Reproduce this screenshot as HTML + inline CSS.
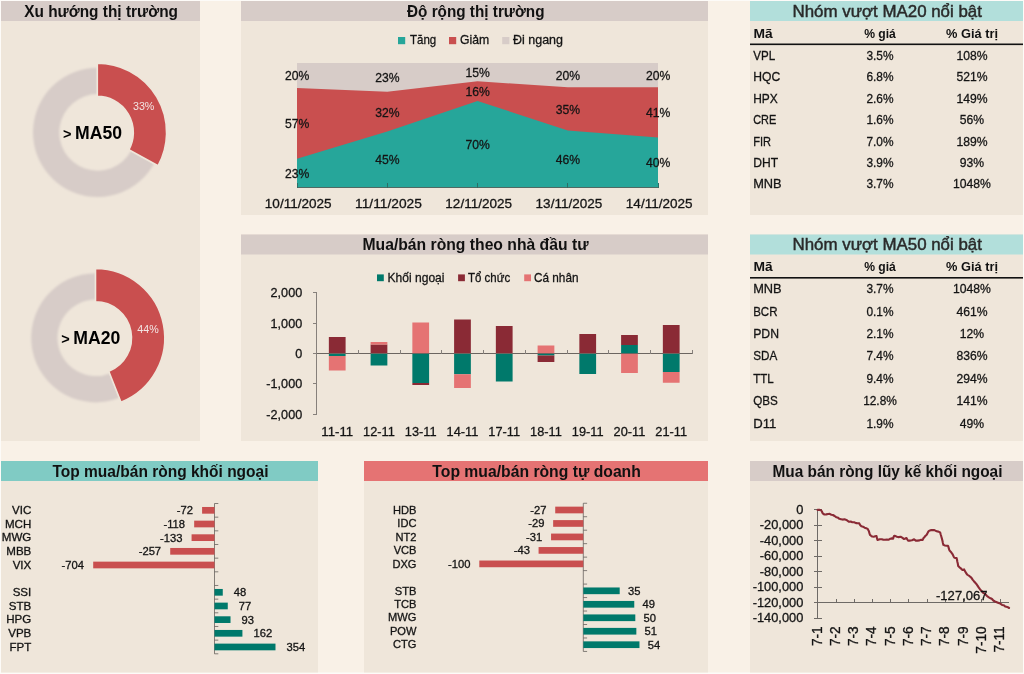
<!DOCTYPE html>
<html lang="vi"><head><meta charset="utf-8"><title>Dashboard thị trường</title>
<style>
html,body{margin:0;padding:0;background:#FDFBF8;}
body{width:1024px;height:674px;overflow:hidden;}
svg{display:block;font-family:"Liberation Sans", Arial, sans-serif;}
</style></head><body>
<svg width="1024" height="674" viewBox="0 0 1024 674">
<defs><filter id="soft" x="-10%" y="-10%" width="120%" height="120%"><feGaussianBlur stdDeviation="0.9"/></filter></defs>
<rect x="1.00" y="1.00" width="1022.00" height="671.50" fill="#F9F1E7" />
<rect x="1.00" y="1.00" width="199.00" height="440.00" fill="#EFE6DA" />
<rect x="1.00" y="1.00" width="199.00" height="20.00" fill="#D7CCC8" />
<rect x="241.00" y="1.00" width="467.00" height="214.00" fill="#EFE6DA" />
<rect x="241.00" y="1.00" width="467.00" height="20.00" fill="#D7CCC8" />
<rect x="241.00" y="234.50" width="467.00" height="206.50" fill="#EFE6DA" />
<rect x="241.00" y="234.50" width="467.00" height="20.00" fill="#D7CCC8" />
<rect x="750.00" y="1.00" width="273.00" height="214.00" fill="#EFE6DA" />
<rect x="750.00" y="1.00" width="273.00" height="20.00" fill="#B2DFDB" />
<rect x="750.00" y="234.50" width="273.00" height="206.50" fill="#EFE6DA" />
<rect x="750.00" y="234.50" width="273.00" height="20.00" fill="#B2DFDB" />
<rect x="1.00" y="461.00" width="317.00" height="211.50" fill="#EFE6DA" />
<rect x="1.00" y="461.00" width="317.00" height="20.00" fill="#80CBC4" />
<rect x="364.00" y="461.00" width="344.00" height="211.50" fill="#EFE6DA" />
<rect x="364.00" y="461.00" width="344.00" height="20.00" fill="#E57373" />
<rect x="750.00" y="461.00" width="273.00" height="211.50" fill="#EFE6DA" />
<rect x="750.00" y="461.00" width="273.00" height="20.00" fill="#D7CCC8" />
<text x="101.10" y="16.80" font-size="16.5" text-anchor="middle" fill="#111" font-weight="700" textLength="153.80" lengthAdjust="spacingAndGlyphs" >Xu hướng thị trường</text>
<text x="475.75" y="16.80" font-size="16.5" text-anchor="middle" fill="#111" font-weight="700" textLength="137.50" lengthAdjust="spacingAndGlyphs" >Độ rộng thị trường</text>
<text x="475.50" y="250.30" font-size="16.5" text-anchor="middle" fill="#111" font-weight="700" textLength="226.00" lengthAdjust="spacingAndGlyphs" >Mua/bán ròng theo nhà đầu tư</text>
<text x="887.20" y="16.50" font-size="16.2" text-anchor="middle" fill="#2a2a2a" textLength="189.50" lengthAdjust="spacingAndGlyphs" stroke="#2a2a2a" stroke-width="0.45">Nhóm vượt MA20 nổi bật</text>
<text x="887.20" y="250.00" font-size="16.2" text-anchor="middle" fill="#2a2a2a" textLength="189.50" lengthAdjust="spacingAndGlyphs" stroke="#2a2a2a" stroke-width="0.45">Nhóm vượt MA50 nổi bật</text>
<text x="160.50" y="476.80" font-size="16.5" text-anchor="middle" fill="#111" font-weight="700" textLength="216.00" lengthAdjust="spacingAndGlyphs" >Top mua/bán ròng khối ngoại</text>
<text x="536.60" y="476.80" font-size="16.5" text-anchor="middle" fill="#111" font-weight="700" textLength="208.50" lengthAdjust="spacingAndGlyphs" >Top mua/bán ròng tự doanh</text>
<text x="887.50" y="476.80" font-size="16.5" text-anchor="middle" fill="#111" font-weight="700" textLength="229.90" lengthAdjust="spacingAndGlyphs" >Mua bán ròng lũy kế khối ngoại</text>
<path d="M154.21,163.52 A64.6,64.6 0 1 1 97.60,67.80 L97.60,94.10 A38.3,38.3 0 1 0 131.16,150.85 Z" fill="#D7CCC8" filter="url(#soft)"/>
<path d="M97.30,63.10 A69.3,69.3 0 0 1 158.03,165.79 L128.85,149.74 A36.0,36.0 0 0 0 97.30,96.40 Z" fill="#C94F4F" stroke="#EFE6DA" stroke-width="1.6"/>
<text x="63.00" y="138.80" font-size="14.5" text-anchor="start" fill="#000" font-weight="700" >&gt;</text>
<text x="75.10" y="139.40" font-size="17.6" text-anchor="start" fill="#000" font-weight="700" textLength="47.00" lengthAdjust="spacingAndGlyphs" >MA50</text>
<text x="143.70" y="110.20" font-size="10.7" text-anchor="middle" fill="#F3E6E4" >33%</text>
<path d="M119.58,397.86 A64.6,64.6 0 1 1 95.80,273.20 L95.80,299.50 A38.3,38.3 0 1 0 109.90,373.41 Z" fill="#D7CCC8" filter="url(#soft)"/>
<path d="M95.50,268.50 A69.3,69.3 0 0 1 121.01,402.23 L108.75,371.27 A36.0,36.0 0 0 0 95.50,301.80 Z" fill="#C94F4F" stroke="#EFE6DA" stroke-width="1.6"/>
<text x="61.20" y="343.50" font-size="14.5" text-anchor="start" fill="#000" font-weight="700" >&gt;</text>
<text x="73.30" y="344.10" font-size="17.6" text-anchor="start" fill="#000" font-weight="700" textLength="47.00" lengthAdjust="spacingAndGlyphs" >MA20</text>
<text x="148.00" y="333.20" font-size="10.7" text-anchor="middle" fill="#F3E6E4" >44%</text>
<rect x="297.00" y="63.00" width="361.00" height="124.50" fill="#D7CCC8" />
<polygon points="297.0,187.5 297.00,88.02 387.25,91.76 477.50,81.30 567.75,87.28 658.00,87.28 658.0,187.5" fill="#C94F4F"/>
<polygon points="297.0,187.5 297.00,158.87 387.25,131.47 477.50,100.97 567.75,130.48 658.00,137.45 658.0,187.5" fill="#26A69A"/>
<line x1="297.00" y1="187.30" x2="658.00" y2="187.30" stroke="#4f6a64" stroke-width="1" shape-rendering="crispEdges"/>
<line x1="297.00" y1="182.90" x2="297.00" y2="187.50" stroke="#2d6e66" stroke-width="1" shape-rendering="crispEdges"/>
<line x1="387.25" y1="182.90" x2="387.25" y2="187.50" stroke="#2d6e66" stroke-width="1" shape-rendering="crispEdges"/>
<line x1="477.50" y1="182.90" x2="477.50" y2="187.50" stroke="#2d6e66" stroke-width="1" shape-rendering="crispEdges"/>
<line x1="567.75" y1="182.90" x2="567.75" y2="187.50" stroke="#2d6e66" stroke-width="1" shape-rendering="crispEdges"/>
<line x1="658.00" y1="182.90" x2="658.00" y2="187.50" stroke="#2d6e66" stroke-width="1" shape-rendering="crispEdges"/>
<text x="297.20" y="178.08" font-size="13.3" text-anchor="middle" fill="#141414" stroke="#141414" stroke-width="0.3" textLength="24.36" lengthAdjust="spacingAndGlyphs" >23%</text>
<text x="297.20" y="128.34" font-size="13.3" text-anchor="middle" fill="#141414" stroke="#141414" stroke-width="0.3" textLength="24.36" lengthAdjust="spacingAndGlyphs" >57%</text>
<text x="297.20" y="80.41" font-size="13.3" text-anchor="middle" fill="#141414" stroke="#141414" stroke-width="0.3" textLength="24.36" lengthAdjust="spacingAndGlyphs" >20%</text>
<text x="387.45" y="164.39" font-size="13.3" text-anchor="middle" fill="#141414" stroke="#141414" stroke-width="0.3" textLength="24.36" lengthAdjust="spacingAndGlyphs" >45%</text>
<text x="387.45" y="116.52" font-size="13.3" text-anchor="middle" fill="#141414" stroke="#141414" stroke-width="0.3" textLength="24.36" lengthAdjust="spacingAndGlyphs" >32%</text>
<text x="387.45" y="82.28" font-size="13.3" text-anchor="middle" fill="#141414" stroke="#141414" stroke-width="0.3" textLength="24.36" lengthAdjust="spacingAndGlyphs" >23%</text>
<text x="477.70" y="149.14" font-size="13.3" text-anchor="middle" fill="#141414" stroke="#141414" stroke-width="0.3" textLength="24.36" lengthAdjust="spacingAndGlyphs" >70%</text>
<text x="477.70" y="96.04" font-size="13.3" text-anchor="middle" fill="#141414" stroke="#141414" stroke-width="0.3" textLength="24.36" lengthAdjust="spacingAndGlyphs" >16%</text>
<text x="477.70" y="77.05" font-size="13.3" text-anchor="middle" fill="#141414" stroke="#141414" stroke-width="0.3" textLength="24.36" lengthAdjust="spacingAndGlyphs" >15%</text>
<text x="567.95" y="163.89" font-size="13.3" text-anchor="middle" fill="#141414" stroke="#141414" stroke-width="0.3" textLength="24.36" lengthAdjust="spacingAndGlyphs" >46%</text>
<text x="567.95" y="113.78" font-size="13.3" text-anchor="middle" fill="#141414" stroke="#141414" stroke-width="0.3" textLength="24.36" lengthAdjust="spacingAndGlyphs" >35%</text>
<text x="567.95" y="80.04" font-size="13.3" text-anchor="middle" fill="#141414" stroke="#141414" stroke-width="0.3" textLength="24.36" lengthAdjust="spacingAndGlyphs" >20%</text>
<text x="658.20" y="167.38" font-size="13.3" text-anchor="middle" fill="#141414" stroke="#141414" stroke-width="0.3" textLength="24.36" lengthAdjust="spacingAndGlyphs" >40%</text>
<text x="658.20" y="117.26" font-size="13.3" text-anchor="middle" fill="#141414" stroke="#141414" stroke-width="0.3" textLength="24.36" lengthAdjust="spacingAndGlyphs" >41%</text>
<text x="658.20" y="80.04" font-size="13.3" text-anchor="middle" fill="#141414" stroke="#141414" stroke-width="0.3" textLength="24.36" lengthAdjust="spacingAndGlyphs" >20%</text>
<text x="298.20" y="208.20" font-size="13.3" text-anchor="middle" fill="#141414" stroke="#141414" stroke-width="0.3" textLength="66.70" lengthAdjust="spacingAndGlyphs" >10/11/2025</text>
<text x="388.45" y="208.20" font-size="13.3" text-anchor="middle" fill="#141414" stroke="#141414" stroke-width="0.3" textLength="66.70" lengthAdjust="spacingAndGlyphs" >11/11/2025</text>
<text x="478.70" y="208.20" font-size="13.3" text-anchor="middle" fill="#141414" stroke="#141414" stroke-width="0.3" textLength="66.70" lengthAdjust="spacingAndGlyphs" >12/11/2025</text>
<text x="568.95" y="208.20" font-size="13.3" text-anchor="middle" fill="#141414" stroke="#141414" stroke-width="0.3" textLength="66.70" lengthAdjust="spacingAndGlyphs" >13/11/2025</text>
<text x="659.20" y="208.20" font-size="13.3" text-anchor="middle" fill="#141414" stroke="#141414" stroke-width="0.3" textLength="66.70" lengthAdjust="spacingAndGlyphs" >14/11/2025</text>
<rect x="398.00" y="37.00" width="7.20" height="7.20" fill="#26A69A" />
<text x="410.00" y="44.10" font-size="13.3" text-anchor="start" fill="#141414" stroke="#141414" stroke-width="0.3" textLength="26.20" lengthAdjust="spacingAndGlyphs" >Tăng</text>
<rect x="449.00" y="37.00" width="7.20" height="7.20" fill="#C94F4F" />
<text x="460.00" y="44.10" font-size="13.3" text-anchor="start" fill="#141414" stroke="#141414" stroke-width="0.3" textLength="29.20" lengthAdjust="spacingAndGlyphs" >Giảm</text>
<rect x="502.20" y="37.00" width="7.20" height="7.20" fill="#D7CCC8" />
<text x="513.00" y="44.10" font-size="13.3" text-anchor="start" fill="#141414" stroke="#141414" stroke-width="0.3" textLength="50.00" lengthAdjust="spacingAndGlyphs" >Đi ngang</text>
<line x1="312.55" y1="292.90" x2="316.55" y2="292.90" stroke="#86807b" stroke-width="1" shape-rendering="crispEdges"/>
<text x="302.20" y="297.30" font-size="13.3" text-anchor="end" fill="#141414" stroke="#141414" stroke-width="0.3" textLength="31.62" lengthAdjust="spacingAndGlyphs" >2,000</text>
<line x1="312.55" y1="323.20" x2="316.55" y2="323.20" stroke="#86807b" stroke-width="1" shape-rendering="crispEdges"/>
<text x="302.20" y="327.60" font-size="13.3" text-anchor="end" fill="#141414" stroke="#141414" stroke-width="0.3" textLength="31.62" lengthAdjust="spacingAndGlyphs" >1,000</text>
<line x1="312.55" y1="353.50" x2="316.55" y2="353.50" stroke="#86807b" stroke-width="1" shape-rendering="crispEdges"/>
<text x="302.20" y="357.90" font-size="13.3" text-anchor="end" fill="#141414" stroke="#141414" stroke-width="0.3" textLength="7.03" lengthAdjust="spacingAndGlyphs" >0</text>
<line x1="312.55" y1="383.80" x2="316.55" y2="383.80" stroke="#86807b" stroke-width="1" shape-rendering="crispEdges"/>
<text x="302.20" y="388.20" font-size="13.3" text-anchor="end" fill="#141414" stroke="#141414" stroke-width="0.3" textLength="35.83" lengthAdjust="spacingAndGlyphs" >-1,000</text>
<line x1="312.55" y1="414.10" x2="316.55" y2="414.10" stroke="#86807b" stroke-width="1" shape-rendering="crispEdges"/>
<text x="302.20" y="418.50" font-size="13.3" text-anchor="end" fill="#141414" stroke="#141414" stroke-width="0.3" textLength="35.83" lengthAdjust="spacingAndGlyphs" >-2,000</text>
<line x1="316.55" y1="292.90" x2="316.55" y2="414.10" stroke="#86807b" stroke-width="1" shape-rendering="crispEdges"/>
<rect x="328.85" y="337.00" width="16.75" height="16.50" fill="#8A2A35" />
<rect x="328.85" y="353.50" width="16.75" height="2.50" fill="#00796B" />
<rect x="328.85" y="356.00" width="16.75" height="14.50" fill="#E57373" />
<text x="337.23" y="435.60" font-size="13.3" text-anchor="middle" fill="#141414" stroke="#141414" stroke-width="0.3" textLength="31.75" lengthAdjust="spacingAndGlyphs" >11-11</text>
<rect x="370.60" y="344.50" width="16.75" height="9.00" fill="#8A2A35" />
<rect x="370.60" y="342.00" width="16.75" height="2.50" fill="#E57373" />
<rect x="370.60" y="353.50" width="16.75" height="12.00" fill="#00796B" />
<text x="378.98" y="435.60" font-size="13.3" text-anchor="middle" fill="#141414" stroke="#141414" stroke-width="0.3" textLength="31.75" lengthAdjust="spacingAndGlyphs" >12-11</text>
<rect x="412.35" y="322.50" width="16.75" height="31.00" fill="#E57373" />
<rect x="412.35" y="353.50" width="16.75" height="29.50" fill="#00796B" />
<rect x="412.35" y="383.00" width="16.75" height="2.00" fill="#8A2A35" />
<text x="420.73" y="435.60" font-size="13.3" text-anchor="middle" fill="#141414" stroke="#141414" stroke-width="0.3" textLength="31.75" lengthAdjust="spacingAndGlyphs" >13-11</text>
<rect x="454.10" y="319.50" width="16.75" height="34.00" fill="#8A2A35" />
<rect x="454.10" y="353.50" width="16.75" height="20.75" fill="#00796B" />
<rect x="454.10" y="374.25" width="16.75" height="13.75" fill="#E57373" />
<text x="462.48" y="435.60" font-size="13.3" text-anchor="middle" fill="#141414" stroke="#141414" stroke-width="0.3" textLength="31.75" lengthAdjust="spacingAndGlyphs" >14-11</text>
<rect x="495.85" y="326.00" width="16.75" height="27.50" fill="#8A2A35" />
<rect x="495.85" y="353.50" width="16.75" height="28.00" fill="#00796B" />
<text x="504.23" y="435.60" font-size="13.3" text-anchor="middle" fill="#141414" stroke="#141414" stroke-width="0.3" textLength="31.75" lengthAdjust="spacingAndGlyphs" >17-11</text>
<rect x="537.60" y="345.50" width="16.75" height="8.00" fill="#E57373" />
<rect x="537.60" y="353.50" width="16.75" height="2.00" fill="#00796B" />
<rect x="537.60" y="355.50" width="16.75" height="6.50" fill="#8A2A35" />
<text x="545.97" y="435.60" font-size="13.3" text-anchor="middle" fill="#141414" stroke="#141414" stroke-width="0.3" textLength="31.75" lengthAdjust="spacingAndGlyphs" >18-11</text>
<rect x="579.35" y="334.00" width="16.75" height="19.50" fill="#8A2A35" />
<rect x="579.35" y="353.50" width="16.75" height="20.50" fill="#00796B" />
<text x="587.72" y="435.60" font-size="13.3" text-anchor="middle" fill="#141414" stroke="#141414" stroke-width="0.3" textLength="31.75" lengthAdjust="spacingAndGlyphs" >19-11</text>
<rect x="621.10" y="345.00" width="16.75" height="8.50" fill="#00796B" />
<rect x="621.10" y="335.00" width="16.75" height="10.00" fill="#8A2A35" />
<rect x="621.10" y="353.50" width="16.75" height="19.50" fill="#E57373" />
<text x="629.47" y="435.60" font-size="13.3" text-anchor="middle" fill="#141414" stroke="#141414" stroke-width="0.3" textLength="31.75" lengthAdjust="spacingAndGlyphs" >20-11</text>
<rect x="662.85" y="325.00" width="16.75" height="28.50" fill="#8A2A35" />
<rect x="662.85" y="353.50" width="16.75" height="18.50" fill="#00796B" />
<rect x="662.85" y="372.00" width="16.75" height="10.75" fill="#E57373" />
<text x="671.22" y="435.60" font-size="13.3" text-anchor="middle" fill="#141414" stroke="#141414" stroke-width="0.3" textLength="31.75" lengthAdjust="spacingAndGlyphs" >21-11</text>
<line x1="316.55" y1="353.50" x2="692.30" y2="353.50" stroke="#6b6560" stroke-width="1" shape-rendering="crispEdges"/>
<line x1="358.30" y1="349.50" x2="358.30" y2="353.50" stroke="#86807b" stroke-width="1" shape-rendering="crispEdges"/>
<line x1="400.05" y1="349.50" x2="400.05" y2="353.50" stroke="#86807b" stroke-width="1" shape-rendering="crispEdges"/>
<line x1="441.80" y1="349.50" x2="441.80" y2="353.50" stroke="#86807b" stroke-width="1" shape-rendering="crispEdges"/>
<line x1="483.55" y1="349.50" x2="483.55" y2="353.50" stroke="#86807b" stroke-width="1" shape-rendering="crispEdges"/>
<line x1="525.30" y1="349.50" x2="525.30" y2="353.50" stroke="#86807b" stroke-width="1" shape-rendering="crispEdges"/>
<line x1="567.05" y1="349.50" x2="567.05" y2="353.50" stroke="#86807b" stroke-width="1" shape-rendering="crispEdges"/>
<line x1="608.80" y1="349.50" x2="608.80" y2="353.50" stroke="#86807b" stroke-width="1" shape-rendering="crispEdges"/>
<line x1="650.55" y1="349.50" x2="650.55" y2="353.50" stroke="#86807b" stroke-width="1" shape-rendering="crispEdges"/>
<line x1="692.30" y1="349.50" x2="692.30" y2="353.50" stroke="#86807b" stroke-width="1" shape-rendering="crispEdges"/>
<rect x="377.00" y="274.40" width="6.80" height="6.80" fill="#00796B" />
<text x="387.50" y="281.50" font-size="13.3" text-anchor="start" fill="#141414" stroke="#141414" stroke-width="0.3" textLength="57.00" lengthAdjust="spacingAndGlyphs" >Khối ngoại</text>
<rect x="458.10" y="274.40" width="6.80" height="6.80" fill="#8A2A35" />
<text x="468.00" y="281.50" font-size="13.3" text-anchor="start" fill="#141414" stroke="#141414" stroke-width="0.3" textLength="42.20" lengthAdjust="spacingAndGlyphs" >Tổ chức</text>
<rect x="524.20" y="274.40" width="6.80" height="6.80" fill="#E57373" />
<text x="534.00" y="281.50" font-size="13.3" text-anchor="start" fill="#141414" stroke="#141414" stroke-width="0.3" textLength="44.50" lengthAdjust="spacingAndGlyphs" >Cá nhân</text>
<text x="753.40" y="37.80" font-size="13.6" text-anchor="start" fill="#111" font-weight="700" textLength="19.20" lengthAdjust="spacingAndGlyphs" >Mã</text>
<text x="880.00" y="37.80" font-size="13.6" text-anchor="middle" fill="#111" font-weight="700" textLength="31.75" lengthAdjust="spacingAndGlyphs" >% giá</text>
<text x="972.00" y="37.80" font-size="13.6" text-anchor="middle" fill="#111" font-weight="700" textLength="51.90" lengthAdjust="spacingAndGlyphs" >% Giá trị</text>
<rect x="750.00" y="43.50" width="273.00" height="1.60" fill="#111" />
<text x="753.20" y="59.90" font-size="13.3" text-anchor="start" fill="#141414" stroke="#141414" stroke-width="0.3" textLength="21.90" lengthAdjust="spacingAndGlyphs" >VPL</text>
<text x="880.00" y="59.90" font-size="13.3" text-anchor="middle" fill="#141414" stroke="#141414" stroke-width="0.3" textLength="27.13" lengthAdjust="spacingAndGlyphs" >3.5%</text>
<text x="972.00" y="59.90" font-size="13.3" text-anchor="middle" fill="#141414" stroke="#141414" stroke-width="0.3" textLength="31.13" lengthAdjust="spacingAndGlyphs" >108%</text>
<text x="753.20" y="81.30" font-size="13.3" text-anchor="start" fill="#141414" stroke="#141414" stroke-width="0.3" textLength="27.00" lengthAdjust="spacingAndGlyphs" >HQC</text>
<text x="880.00" y="81.30" font-size="13.3" text-anchor="middle" fill="#141414" stroke="#141414" stroke-width="0.3" textLength="27.13" lengthAdjust="spacingAndGlyphs" >6.8%</text>
<text x="972.00" y="81.30" font-size="13.3" text-anchor="middle" fill="#141414" stroke="#141414" stroke-width="0.3" textLength="31.13" lengthAdjust="spacingAndGlyphs" >521%</text>
<text x="753.20" y="102.70" font-size="13.3" text-anchor="start" fill="#141414" stroke="#141414" stroke-width="0.3" textLength="24.60" lengthAdjust="spacingAndGlyphs" >HPX</text>
<text x="880.00" y="102.70" font-size="13.3" text-anchor="middle" fill="#141414" stroke="#141414" stroke-width="0.3" textLength="27.13" lengthAdjust="spacingAndGlyphs" >2.6%</text>
<text x="972.00" y="102.70" font-size="13.3" text-anchor="middle" fill="#141414" stroke="#141414" stroke-width="0.3" textLength="31.13" lengthAdjust="spacingAndGlyphs" >149%</text>
<text x="753.20" y="124.10" font-size="13.3" text-anchor="start" fill="#141414" stroke="#141414" stroke-width="0.3" textLength="23.10" lengthAdjust="spacingAndGlyphs" >CRE</text>
<text x="880.00" y="124.10" font-size="13.3" text-anchor="middle" fill="#141414" stroke="#141414" stroke-width="0.3" textLength="27.13" lengthAdjust="spacingAndGlyphs" >1.6%</text>
<text x="972.00" y="124.10" font-size="13.3" text-anchor="middle" fill="#141414" stroke="#141414" stroke-width="0.3" textLength="24.36" lengthAdjust="spacingAndGlyphs" >56%</text>
<text x="753.20" y="145.50" font-size="13.3" text-anchor="start" fill="#141414" stroke="#141414" stroke-width="0.3" textLength="17.80" lengthAdjust="spacingAndGlyphs" >FIR</text>
<text x="880.00" y="145.50" font-size="13.3" text-anchor="middle" fill="#141414" stroke="#141414" stroke-width="0.3" textLength="27.13" lengthAdjust="spacingAndGlyphs" >7.0%</text>
<text x="972.00" y="145.50" font-size="13.3" text-anchor="middle" fill="#141414" stroke="#141414" stroke-width="0.3" textLength="31.13" lengthAdjust="spacingAndGlyphs" >189%</text>
<text x="753.20" y="166.90" font-size="13.3" text-anchor="start" fill="#141414" stroke="#141414" stroke-width="0.3" textLength="24.90" lengthAdjust="spacingAndGlyphs" >DHT</text>
<text x="880.00" y="166.90" font-size="13.3" text-anchor="middle" fill="#141414" stroke="#141414" stroke-width="0.3" textLength="27.13" lengthAdjust="spacingAndGlyphs" >3.9%</text>
<text x="972.00" y="166.90" font-size="13.3" text-anchor="middle" fill="#141414" stroke="#141414" stroke-width="0.3" textLength="24.36" lengthAdjust="spacingAndGlyphs" >93%</text>
<text x="753.20" y="188.30" font-size="13.3" text-anchor="start" fill="#141414" stroke="#141414" stroke-width="0.3" textLength="28.50" lengthAdjust="spacingAndGlyphs" >MNB</text>
<text x="880.00" y="188.30" font-size="13.3" text-anchor="middle" fill="#141414" stroke="#141414" stroke-width="0.3" textLength="27.13" lengthAdjust="spacingAndGlyphs" >3.7%</text>
<text x="972.00" y="188.30" font-size="13.3" text-anchor="middle" fill="#141414" stroke="#141414" stroke-width="0.3" textLength="37.89" lengthAdjust="spacingAndGlyphs" >1048%</text>
<text x="753.40" y="271.30" font-size="13.6" text-anchor="start" fill="#111" font-weight="700" textLength="19.20" lengthAdjust="spacingAndGlyphs" >Mã</text>
<text x="880.00" y="271.30" font-size="13.6" text-anchor="middle" fill="#111" font-weight="700" textLength="31.75" lengthAdjust="spacingAndGlyphs" >% giá</text>
<text x="972.00" y="271.30" font-size="13.6" text-anchor="middle" fill="#111" font-weight="700" textLength="51.90" lengthAdjust="spacingAndGlyphs" >% Giá trị</text>
<rect x="750.00" y="277.00" width="273.00" height="1.60" fill="#111" />
<text x="753.20" y="293.10" font-size="13.3" text-anchor="start" fill="#141414" stroke="#141414" stroke-width="0.3" textLength="28.50" lengthAdjust="spacingAndGlyphs" >MNB</text>
<text x="880.00" y="293.10" font-size="13.3" text-anchor="middle" fill="#141414" stroke="#141414" stroke-width="0.3" textLength="27.13" lengthAdjust="spacingAndGlyphs" >3.7%</text>
<text x="972.00" y="293.10" font-size="13.3" text-anchor="middle" fill="#141414" stroke="#141414" stroke-width="0.3" textLength="37.89" lengthAdjust="spacingAndGlyphs" >1048%</text>
<text x="753.20" y="315.55" font-size="13.3" text-anchor="start" fill="#141414" stroke="#141414" stroke-width="0.3" textLength="24.30" lengthAdjust="spacingAndGlyphs" >BCR</text>
<text x="880.00" y="315.55" font-size="13.3" text-anchor="middle" fill="#141414" stroke="#141414" stroke-width="0.3" textLength="27.13" lengthAdjust="spacingAndGlyphs" >0.1%</text>
<text x="972.00" y="315.55" font-size="13.3" text-anchor="middle" fill="#141414" stroke="#141414" stroke-width="0.3" textLength="31.13" lengthAdjust="spacingAndGlyphs" >461%</text>
<text x="753.20" y="338.00" font-size="13.3" text-anchor="start" fill="#141414" stroke="#141414" stroke-width="0.3" textLength="25.80" lengthAdjust="spacingAndGlyphs" >PDN</text>
<text x="880.00" y="338.00" font-size="13.3" text-anchor="middle" fill="#141414" stroke="#141414" stroke-width="0.3" textLength="27.13" lengthAdjust="spacingAndGlyphs" >2.1%</text>
<text x="972.00" y="338.00" font-size="13.3" text-anchor="middle" fill="#141414" stroke="#141414" stroke-width="0.3" textLength="24.36" lengthAdjust="spacingAndGlyphs" >12%</text>
<text x="753.20" y="360.45" font-size="13.3" text-anchor="start" fill="#141414" stroke="#141414" stroke-width="0.3" textLength="24.00" lengthAdjust="spacingAndGlyphs" >SDA</text>
<text x="880.00" y="360.45" font-size="13.3" text-anchor="middle" fill="#141414" stroke="#141414" stroke-width="0.3" textLength="27.13" lengthAdjust="spacingAndGlyphs" >7.4%</text>
<text x="972.00" y="360.45" font-size="13.3" text-anchor="middle" fill="#141414" stroke="#141414" stroke-width="0.3" textLength="31.13" lengthAdjust="spacingAndGlyphs" >836%</text>
<text x="753.20" y="382.90" font-size="13.3" text-anchor="start" fill="#141414" stroke="#141414" stroke-width="0.3" textLength="20.50" lengthAdjust="spacingAndGlyphs" >TTL</text>
<text x="880.00" y="382.90" font-size="13.3" text-anchor="middle" fill="#141414" stroke="#141414" stroke-width="0.3" textLength="27.13" lengthAdjust="spacingAndGlyphs" >9.4%</text>
<text x="972.00" y="382.90" font-size="13.3" text-anchor="middle" fill="#141414" stroke="#141414" stroke-width="0.3" textLength="31.13" lengthAdjust="spacingAndGlyphs" >294%</text>
<text x="753.20" y="405.35" font-size="13.3" text-anchor="start" fill="#141414" stroke="#141414" stroke-width="0.3" textLength="24.60" lengthAdjust="spacingAndGlyphs" >QBS</text>
<text x="880.00" y="405.35" font-size="13.3" text-anchor="middle" fill="#141414" stroke="#141414" stroke-width="0.3" textLength="33.75" lengthAdjust="spacingAndGlyphs" >12.8%</text>
<text x="972.00" y="405.35" font-size="13.3" text-anchor="middle" fill="#141414" stroke="#141414" stroke-width="0.3" textLength="31.13" lengthAdjust="spacingAndGlyphs" >141%</text>
<text x="753.20" y="427.80" font-size="13.3" text-anchor="start" fill="#141414" stroke="#141414" stroke-width="0.3" textLength="23.10" lengthAdjust="spacingAndGlyphs" >D11</text>
<text x="880.00" y="427.80" font-size="13.3" text-anchor="middle" fill="#141414" stroke="#141414" stroke-width="0.3" textLength="27.13" lengthAdjust="spacingAndGlyphs" >1.9%</text>
<text x="972.00" y="427.80" font-size="13.3" text-anchor="middle" fill="#141414" stroke="#141414" stroke-width="0.3" textLength="24.36" lengthAdjust="spacingAndGlyphs" >49%</text>
<line x1="214.50" y1="503.50" x2="214.50" y2="653.80" stroke="#5f5a55" stroke-width="0.75" />
<line x1="214.50" y1="503.50" x2="218.30" y2="503.50" stroke="#5f5a55" stroke-width="0.75" />
<line x1="214.50" y1="517.16" x2="218.30" y2="517.16" stroke="#5f5a55" stroke-width="0.75" />
<line x1="214.50" y1="530.83" x2="218.30" y2="530.83" stroke="#5f5a55" stroke-width="0.75" />
<line x1="214.50" y1="544.49" x2="218.30" y2="544.49" stroke="#5f5a55" stroke-width="0.75" />
<line x1="214.50" y1="558.15" x2="218.30" y2="558.15" stroke="#5f5a55" stroke-width="0.75" />
<line x1="214.50" y1="571.82" x2="218.30" y2="571.82" stroke="#5f5a55" stroke-width="0.75" />
<line x1="214.50" y1="585.48" x2="218.30" y2="585.48" stroke="#5f5a55" stroke-width="0.75" />
<line x1="214.50" y1="599.15" x2="218.30" y2="599.15" stroke="#5f5a55" stroke-width="0.75" />
<line x1="214.50" y1="612.81" x2="218.30" y2="612.81" stroke="#5f5a55" stroke-width="0.75" />
<line x1="214.50" y1="626.47" x2="218.30" y2="626.47" stroke="#5f5a55" stroke-width="0.75" />
<line x1="214.50" y1="640.14" x2="218.30" y2="640.14" stroke="#5f5a55" stroke-width="0.75" />
<line x1="214.50" y1="653.80" x2="218.30" y2="653.80" stroke="#5f5a55" stroke-width="0.75" />
<text x="31.30" y="514.03" font-size="11.0" text-anchor="end" fill="#141414" stroke="#141414" stroke-width="0.3" textLength="19.25" lengthAdjust="spacingAndGlyphs" >VIC</text>
<rect x="202.09" y="506.98" width="12.41" height="6.70" fill="#C94F4F" />
<text x="192.99" y="514.33" font-size="11.0" text-anchor="end" fill="#141414" stroke="#141414" stroke-width="0.3" textLength="16.22" lengthAdjust="spacingAndGlyphs" >-72</text>
<text x="31.30" y="527.70" font-size="11.0" text-anchor="end" fill="#141414" stroke="#141414" stroke-width="0.3" textLength="26.30" lengthAdjust="spacingAndGlyphs" >MCH</text>
<rect x="194.17" y="520.65" width="20.33" height="6.70" fill="#C94F4F" />
<text x="185.07" y="528.00" font-size="11.0" text-anchor="end" fill="#141414" stroke="#141414" stroke-width="0.3" textLength="21.62" lengthAdjust="spacingAndGlyphs" >-118</text>
<text x="31.30" y="541.36" font-size="11.0" text-anchor="end" fill="#141414" stroke="#141414" stroke-width="0.3" textLength="29.51" lengthAdjust="spacingAndGlyphs" >MWG</text>
<rect x="191.58" y="534.31" width="22.92" height="6.70" fill="#C94F4F" />
<text x="182.48" y="541.66" font-size="11.0" text-anchor="end" fill="#141414" stroke="#141414" stroke-width="0.3" textLength="22.46" lengthAdjust="spacingAndGlyphs" >-133</text>
<text x="31.30" y="555.02" font-size="11.0" text-anchor="end" fill="#141414" stroke="#141414" stroke-width="0.3" textLength="25.03" lengthAdjust="spacingAndGlyphs" >MBB</text>
<rect x="170.22" y="547.97" width="44.28" height="6.70" fill="#C94F4F" />
<text x="161.12" y="555.32" font-size="11.0" text-anchor="end" fill="#141414" stroke="#141414" stroke-width="0.3" textLength="22.46" lengthAdjust="spacingAndGlyphs" >-257</text>
<text x="31.30" y="568.69" font-size="11.0" text-anchor="end" fill="#141414" stroke="#141414" stroke-width="0.3" textLength="18.62" lengthAdjust="spacingAndGlyphs" >VIX</text>
<rect x="93.20" y="561.64" width="121.30" height="6.70" fill="#C94F4F" />
<text x="84.10" y="568.99" font-size="11.0" text-anchor="end" fill="#141414" stroke="#141414" stroke-width="0.3" textLength="22.46" lengthAdjust="spacingAndGlyphs" >-704</text>
<text x="31.30" y="596.01" font-size="11.0" text-anchor="end" fill="#141414" stroke="#141414" stroke-width="0.3" textLength="18.62" lengthAdjust="spacingAndGlyphs" >SSI</text>
<rect x="214.50" y="588.96" width="8.27" height="6.70" fill="#00796B" />
<text x="233.77" y="596.31" font-size="11.0" text-anchor="start" fill="#141414" stroke="#141414" stroke-width="0.3" textLength="12.48" lengthAdjust="spacingAndGlyphs" >48</text>
<text x="31.30" y="609.68" font-size="11.0" text-anchor="end" fill="#141414" stroke="#141414" stroke-width="0.3" textLength="22.46" lengthAdjust="spacingAndGlyphs" >STB</text>
<rect x="214.50" y="602.63" width="13.27" height="6.70" fill="#00796B" />
<text x="238.77" y="609.98" font-size="11.0" text-anchor="start" fill="#141414" stroke="#141414" stroke-width="0.3" textLength="12.48" lengthAdjust="spacingAndGlyphs" >77</text>
<text x="31.30" y="623.34" font-size="11.0" text-anchor="end" fill="#141414" stroke="#141414" stroke-width="0.3" textLength="25.03" lengthAdjust="spacingAndGlyphs" >HPG</text>
<rect x="214.50" y="616.29" width="16.02" height="6.70" fill="#00796B" />
<text x="241.52" y="623.64" font-size="11.0" text-anchor="start" fill="#141414" stroke="#141414" stroke-width="0.3" textLength="12.48" lengthAdjust="spacingAndGlyphs" >93</text>
<text x="31.30" y="637.00" font-size="11.0" text-anchor="end" fill="#141414" stroke="#141414" stroke-width="0.3" textLength="23.11" lengthAdjust="spacingAndGlyphs" >VPB</text>
<rect x="214.50" y="629.95" width="27.91" height="6.70" fill="#00796B" />
<text x="253.41" y="637.30" font-size="11.0" text-anchor="start" fill="#141414" stroke="#141414" stroke-width="0.3" textLength="18.72" lengthAdjust="spacingAndGlyphs" >162</text>
<text x="31.30" y="650.67" font-size="11.0" text-anchor="end" fill="#141414" stroke="#141414" stroke-width="0.3" textLength="21.82" lengthAdjust="spacingAndGlyphs" >FPT</text>
<rect x="214.50" y="643.62" width="60.99" height="6.70" fill="#00796B" />
<text x="286.49" y="650.97" font-size="11.0" text-anchor="start" fill="#141414" stroke="#141414" stroke-width="0.3" textLength="18.72" lengthAdjust="spacingAndGlyphs" >354</text>
<line x1="583.30" y1="503.25" x2="583.30" y2="651.45" stroke="#5f5a55" stroke-width="0.75" />
<line x1="583.30" y1="503.25" x2="587.10" y2="503.25" stroke="#5f5a55" stroke-width="0.75" />
<line x1="583.30" y1="516.72" x2="587.10" y2="516.72" stroke="#5f5a55" stroke-width="0.75" />
<line x1="583.30" y1="530.20" x2="587.10" y2="530.20" stroke="#5f5a55" stroke-width="0.75" />
<line x1="583.30" y1="543.67" x2="587.10" y2="543.67" stroke="#5f5a55" stroke-width="0.75" />
<line x1="583.30" y1="557.14" x2="587.10" y2="557.14" stroke="#5f5a55" stroke-width="0.75" />
<line x1="583.30" y1="570.61" x2="587.10" y2="570.61" stroke="#5f5a55" stroke-width="0.75" />
<line x1="583.30" y1="584.09" x2="587.10" y2="584.09" stroke="#5f5a55" stroke-width="0.75" />
<line x1="583.30" y1="597.56" x2="587.10" y2="597.56" stroke="#5f5a55" stroke-width="0.75" />
<line x1="583.30" y1="611.03" x2="587.10" y2="611.03" stroke="#5f5a55" stroke-width="0.75" />
<line x1="583.30" y1="624.50" x2="587.10" y2="624.50" stroke="#5f5a55" stroke-width="0.75" />
<line x1="583.30" y1="637.98" x2="587.10" y2="637.98" stroke="#5f5a55" stroke-width="0.75" />
<line x1="583.30" y1="651.45" x2="587.10" y2="651.45" stroke="#5f5a55" stroke-width="0.75" />
<text x="416.50" y="513.69" font-size="11.0" text-anchor="end" fill="#141414" stroke="#141414" stroke-width="0.3" textLength="23.46" lengthAdjust="spacingAndGlyphs" >HDB</text>
<rect x="555.22" y="506.64" width="28.08" height="6.70" fill="#C94F4F" />
<text x="546.52" y="513.99" font-size="11.0" text-anchor="end" fill="#141414" stroke="#141414" stroke-width="0.3" textLength="16.22" lengthAdjust="spacingAndGlyphs" >-27</text>
<text x="416.50" y="527.16" font-size="11.0" text-anchor="end" fill="#141414" stroke="#141414" stroke-width="0.3" textLength="19.13" lengthAdjust="spacingAndGlyphs" >IDC</text>
<rect x="553.14" y="520.11" width="30.16" height="6.70" fill="#C94F4F" />
<text x="544.44" y="527.46" font-size="11.0" text-anchor="end" fill="#141414" stroke="#141414" stroke-width="0.3" textLength="16.22" lengthAdjust="spacingAndGlyphs" >-29</text>
<text x="416.50" y="540.63" font-size="11.0" text-anchor="end" fill="#141414" stroke="#141414" stroke-width="0.3" textLength="20.99" lengthAdjust="spacingAndGlyphs" >NT2</text>
<rect x="551.06" y="533.58" width="32.24" height="6.70" fill="#C94F4F" />
<text x="542.36" y="540.93" font-size="11.0" text-anchor="end" fill="#141414" stroke="#141414" stroke-width="0.3" textLength="16.22" lengthAdjust="spacingAndGlyphs" >-31</text>
<text x="416.50" y="554.10" font-size="11.0" text-anchor="end" fill="#141414" stroke="#141414" stroke-width="0.3" textLength="22.84" lengthAdjust="spacingAndGlyphs" >VCB</text>
<rect x="538.58" y="547.05" width="44.72" height="6.70" fill="#C94F4F" />
<text x="529.88" y="554.40" font-size="11.0" text-anchor="end" fill="#141414" stroke="#141414" stroke-width="0.3" textLength="16.22" lengthAdjust="spacingAndGlyphs" >-43</text>
<text x="416.50" y="567.58" font-size="11.0" text-anchor="end" fill="#141414" stroke="#141414" stroke-width="0.3" textLength="24.08" lengthAdjust="spacingAndGlyphs" >DXG</text>
<rect x="479.30" y="560.53" width="104.00" height="6.70" fill="#C94F4F" />
<text x="470.60" y="567.88" font-size="11.0" text-anchor="end" fill="#141414" stroke="#141414" stroke-width="0.3" textLength="22.46" lengthAdjust="spacingAndGlyphs" >-100</text>
<text x="416.50" y="594.52" font-size="11.0" text-anchor="end" fill="#141414" stroke="#141414" stroke-width="0.3" textLength="21.61" lengthAdjust="spacingAndGlyphs" >STB</text>
<rect x="583.30" y="587.47" width="36.40" height="6.70" fill="#00796B" />
<text x="628.00" y="594.82" font-size="11.0" text-anchor="start" fill="#141414" stroke="#141414" stroke-width="0.3" textLength="12.48" lengthAdjust="spacingAndGlyphs" >35</text>
<text x="416.50" y="608.00" font-size="11.0" text-anchor="end" fill="#141414" stroke="#141414" stroke-width="0.3" textLength="22.22" lengthAdjust="spacingAndGlyphs" >TCB</text>
<rect x="583.30" y="600.95" width="50.96" height="6.70" fill="#00796B" />
<text x="642.56" y="608.30" font-size="11.0" text-anchor="start" fill="#141414" stroke="#141414" stroke-width="0.3" textLength="12.48" lengthAdjust="spacingAndGlyphs" >49</text>
<text x="416.50" y="621.47" font-size="11.0" text-anchor="end" fill="#141414" stroke="#141414" stroke-width="0.3" textLength="28.38" lengthAdjust="spacingAndGlyphs" >MWG</text>
<rect x="583.30" y="614.42" width="52.00" height="6.70" fill="#00796B" />
<text x="643.60" y="621.77" font-size="11.0" text-anchor="start" fill="#141414" stroke="#141414" stroke-width="0.3" textLength="12.48" lengthAdjust="spacingAndGlyphs" >50</text>
<text x="416.50" y="634.94" font-size="11.0" text-anchor="end" fill="#141414" stroke="#141414" stroke-width="0.3" textLength="26.54" lengthAdjust="spacingAndGlyphs" >POW</text>
<rect x="583.30" y="627.89" width="53.04" height="6.70" fill="#00796B" />
<text x="644.64" y="635.24" font-size="11.0" text-anchor="start" fill="#141414" stroke="#141414" stroke-width="0.3" textLength="12.48" lengthAdjust="spacingAndGlyphs" >51</text>
<text x="416.50" y="648.41" font-size="11.0" text-anchor="end" fill="#141414" stroke="#141414" stroke-width="0.3" textLength="23.45" lengthAdjust="spacingAndGlyphs" >CTG</text>
<rect x="583.30" y="641.36" width="56.16" height="6.70" fill="#00796B" />
<text x="647.76" y="648.71" font-size="11.0" text-anchor="start" fill="#141414" stroke="#141414" stroke-width="0.3" textLength="12.48" lengthAdjust="spacingAndGlyphs" >54</text>
<line x1="813.50" y1="509.60" x2="821.50" y2="509.60" stroke="#6e6a66" stroke-width="1" shape-rendering="crispEdges"/>
<text x="803.30" y="513.70" font-size="13.3" text-anchor="end" fill="#141414" stroke="#141414" stroke-width="0.3" textLength="7.14" lengthAdjust="spacingAndGlyphs" >0</text>
<line x1="813.50" y1="525.10" x2="821.50" y2="525.10" stroke="#6e6a66" stroke-width="1" shape-rendering="crispEdges"/>
<text x="803.30" y="529.20" font-size="13.3" text-anchor="end" fill="#141414" stroke="#141414" stroke-width="0.3" textLength="43.53" lengthAdjust="spacingAndGlyphs" >-20,000</text>
<line x1="813.50" y1="540.60" x2="821.50" y2="540.60" stroke="#6e6a66" stroke-width="1" shape-rendering="crispEdges"/>
<text x="803.30" y="544.70" font-size="13.3" text-anchor="end" fill="#141414" stroke="#141414" stroke-width="0.3" textLength="43.53" lengthAdjust="spacingAndGlyphs" >-40,000</text>
<line x1="813.50" y1="556.10" x2="821.50" y2="556.10" stroke="#6e6a66" stroke-width="1" shape-rendering="crispEdges"/>
<text x="803.30" y="560.20" font-size="13.3" text-anchor="end" fill="#141414" stroke="#141414" stroke-width="0.3" textLength="43.53" lengthAdjust="spacingAndGlyphs" >-60,000</text>
<line x1="813.50" y1="571.60" x2="821.50" y2="571.60" stroke="#6e6a66" stroke-width="1" shape-rendering="crispEdges"/>
<text x="803.30" y="575.70" font-size="13.3" text-anchor="end" fill="#141414" stroke="#141414" stroke-width="0.3" textLength="43.53" lengthAdjust="spacingAndGlyphs" >-80,000</text>
<line x1="813.50" y1="587.10" x2="821.50" y2="587.10" stroke="#6e6a66" stroke-width="1" shape-rendering="crispEdges"/>
<text x="803.30" y="591.20" font-size="13.3" text-anchor="end" fill="#141414" stroke="#141414" stroke-width="0.3" textLength="50.67" lengthAdjust="spacingAndGlyphs" >-100,000</text>
<line x1="813.50" y1="602.60" x2="821.50" y2="602.60" stroke="#6e6a66" stroke-width="1" shape-rendering="crispEdges"/>
<text x="803.30" y="606.70" font-size="13.3" text-anchor="end" fill="#141414" stroke="#141414" stroke-width="0.3" textLength="50.67" lengthAdjust="spacingAndGlyphs" >-120,000</text>
<line x1="813.50" y1="618.10" x2="821.50" y2="618.10" stroke="#6e6a66" stroke-width="1" shape-rendering="crispEdges"/>
<text x="803.30" y="622.20" font-size="13.3" text-anchor="end" fill="#141414" stroke="#141414" stroke-width="0.3" textLength="50.67" lengthAdjust="spacingAndGlyphs" >-140,000</text>
<line x1="817.80" y1="509.60" x2="817.80" y2="618.10" stroke="#6e6a66" stroke-width="1" shape-rendering="crispEdges"/>
<line x1="817.80" y1="602.60" x2="1009.00" y2="602.60" stroke="#6e6a66" stroke-width="1" shape-rendering="crispEdges"/>
<text x="821.80" y="626.30" font-size="14" text-anchor="end" fill="#141414" stroke="#141414" stroke-width="0.3" textLength="19.73" lengthAdjust="spacingAndGlyphs" transform="rotate(-90 821.80 626.30)" >7-1</text>
<line x1="836.02" y1="598.60" x2="836.02" y2="602.60" stroke="#6e6a66" stroke-width="1" shape-rendering="crispEdges"/>
<text x="840.02" y="626.30" font-size="14" text-anchor="end" fill="#141414" stroke="#141414" stroke-width="0.3" textLength="19.73" lengthAdjust="spacingAndGlyphs" transform="rotate(-90 840.02 626.30)" >7-2</text>
<line x1="854.24" y1="598.60" x2="854.24" y2="602.60" stroke="#6e6a66" stroke-width="1" shape-rendering="crispEdges"/>
<text x="858.24" y="626.30" font-size="14" text-anchor="end" fill="#141414" stroke="#141414" stroke-width="0.3" textLength="19.73" lengthAdjust="spacingAndGlyphs" transform="rotate(-90 858.24 626.30)" >7-3</text>
<line x1="872.46" y1="598.60" x2="872.46" y2="602.60" stroke="#6e6a66" stroke-width="1" shape-rendering="crispEdges"/>
<text x="876.46" y="626.30" font-size="14" text-anchor="end" fill="#141414" stroke="#141414" stroke-width="0.3" textLength="19.73" lengthAdjust="spacingAndGlyphs" transform="rotate(-90 876.46 626.30)" >7-4</text>
<line x1="890.68" y1="598.60" x2="890.68" y2="602.60" stroke="#6e6a66" stroke-width="1" shape-rendering="crispEdges"/>
<text x="894.68" y="626.30" font-size="14" text-anchor="end" fill="#141414" stroke="#141414" stroke-width="0.3" textLength="19.73" lengthAdjust="spacingAndGlyphs" transform="rotate(-90 894.68 626.30)" >7-5</text>
<line x1="908.90" y1="598.60" x2="908.90" y2="602.60" stroke="#6e6a66" stroke-width="1" shape-rendering="crispEdges"/>
<text x="912.90" y="626.30" font-size="14" text-anchor="end" fill="#141414" stroke="#141414" stroke-width="0.3" textLength="19.73" lengthAdjust="spacingAndGlyphs" transform="rotate(-90 912.90 626.30)" >7-6</text>
<line x1="927.12" y1="598.60" x2="927.12" y2="602.60" stroke="#6e6a66" stroke-width="1" shape-rendering="crispEdges"/>
<text x="931.12" y="626.30" font-size="14" text-anchor="end" fill="#141414" stroke="#141414" stroke-width="0.3" textLength="19.73" lengthAdjust="spacingAndGlyphs" transform="rotate(-90 931.12 626.30)" >7-7</text>
<line x1="945.34" y1="598.60" x2="945.34" y2="602.60" stroke="#6e6a66" stroke-width="1" shape-rendering="crispEdges"/>
<text x="949.34" y="626.30" font-size="14" text-anchor="end" fill="#141414" stroke="#141414" stroke-width="0.3" textLength="19.73" lengthAdjust="spacingAndGlyphs" transform="rotate(-90 949.34 626.30)" >7-8</text>
<line x1="963.56" y1="598.60" x2="963.56" y2="602.60" stroke="#6e6a66" stroke-width="1" shape-rendering="crispEdges"/>
<text x="967.56" y="626.30" font-size="14" text-anchor="end" fill="#141414" stroke="#141414" stroke-width="0.3" textLength="19.73" lengthAdjust="spacingAndGlyphs" transform="rotate(-90 967.56 626.30)" >7-9</text>
<line x1="981.78" y1="598.60" x2="981.78" y2="602.60" stroke="#6e6a66" stroke-width="1" shape-rendering="crispEdges"/>
<text x="985.78" y="626.30" font-size="14" text-anchor="end" fill="#141414" stroke="#141414" stroke-width="0.3" textLength="27.32" lengthAdjust="spacingAndGlyphs" transform="rotate(-90 985.78 626.30)" >7-10</text>
<line x1="1000.00" y1="598.60" x2="1000.00" y2="602.60" stroke="#6e6a66" stroke-width="1" shape-rendering="crispEdges"/>
<text x="1004.00" y="626.30" font-size="14" text-anchor="end" fill="#141414" stroke="#141414" stroke-width="0.3" textLength="26.31" lengthAdjust="spacingAndGlyphs" transform="rotate(-90 1004.00 626.30)" >7-11</text>
<polyline points="817.6,509.9 819.4,509.9 821.1,510.2 821.9,511.5 822.7,513.4 824.4,514.5 826.2,514.4 828.1,514.0 829.7,513.9 831.3,514.7 832.9,515.0 834.6,516.0 836.2,517.2 837.8,517.6 839.4,518.8 841.0,519.2 842.6,519.6 844.5,519.3 846.4,519.9 847.7,520.8 849.1,521.8 850.7,521.6 852.3,522.2 854.2,522.3 856.0,523.1 857.7,523.2 859.3,523.4 860.3,525.2 861.4,526.3 863.0,526.7 864.6,527.7 866.2,528.2 867.9,529.2 868.4,530.3 868.9,531.2 869.5,533.4 870.0,534.9 871.1,535.8 872.2,536.5 873.8,536.7 875.1,536.3 876.5,536.0 877.0,538.4 877.5,540.0 879.7,539.2 881.8,539.2 883.4,539.8 885.0,539.7 886.9,539.6 888.8,539.7 890.4,538.7 891.8,538.4 893.1,538.7 893.6,536.9 894.2,535.8 895.5,536.1 896.9,536.8 898.7,537.1 900.6,536.8 902.2,537.6 903.8,538.9 905.2,538.6 906.5,538.1 907.3,539.5 908.1,540.6 910.3,540.6 912.0,540.2 913.1,539.7 914.1,539.3 915.8,540.6 917.6,540.6 919.5,540.4 921.1,539.7 922.7,539.9 923.5,538.1 924.4,537.2 925.4,535.8 926.5,535.0 927.2,533.9 927.9,532.3 928.7,531.1 930.0,530.4 931.3,530.0 932.7,530.1 934.0,530.0 935.4,530.6 936.7,531.3 938.4,531.6 940.1,532.4 940.6,534.2 941.1,535.8 941.5,537.2 942.0,538.9 942.5,541.1 942.9,543.0 943.4,544.9 944.9,545.5 946.4,545.7 948.0,545.8 948.5,547.2 949.1,549.4 949.6,550.6 950.9,551.9 952.3,553.8 953.0,555.1 953.7,556.7 954.4,557.8 956.6,558.1 957.0,559.8 957.4,562.0 957.8,563.6 958.2,566.0 959.5,567.3 960.9,568.3 961.7,569.4 962.5,570.0 964.1,569.4 965.2,571.4 966.2,573.2 967.0,574.4 967.8,575.0 969.6,576.2 971.3,577.6 972.6,579.6 973.9,581.2 975.3,582.8 976.6,584.2 977.5,585.6 978.3,586.8 979.2,588.2 980.5,590.0 981.9,591.3 983.2,592.8 984.5,593.5 985.8,594.8 987.1,596.1 988.9,597.3 990.6,598.3 992.0,599.0 993.3,600.5 995.0,601.5 996.8,602.2 998.6,603.0 1000.3,603.6 1002.1,604.9 1003.8,605.3 1005.1,606.4 1006.5,606.8 1007.8,607.2 1009.1,608.0" fill="none" stroke="#8A2A35" stroke-width="2.1" stroke-linejoin="round" stroke-linecap="round"/>
<text x="987.60" y="600.20" font-size="13.3" text-anchor="end" fill="#141414" stroke="#141414" stroke-width="0.3" textLength="51.60" lengthAdjust="spacingAndGlyphs" >-127,067</text>
</svg>
</body></html>
